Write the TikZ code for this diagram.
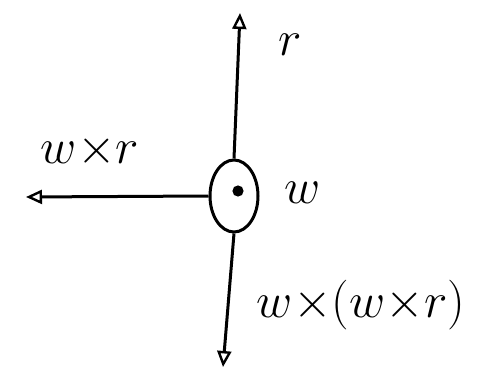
\documentclass[tikz,border=0pt]{standalone}
\usepackage{xcolor}
\usepackage{tikz}
\usetikzlibrary{arrows.meta, shapes.geometric, positioning}

\tikzset{
    body/.style={ellipse, draw, line width=1.5pt, minimum width=24pt, minimum height=36pt, inner sep=0pt},
    vec/.style={line width=1.5pt, -{Triangle[open, length=8pt, width=7pt, line width=1.2pt]}},
    lbl/.style={font=\fontsize{25}{29}\selectfont, inner sep=1pt}
}

\begin{document}
\begin{tikzpicture}[x=0.5pt, y=0.5pt]
        \useasboundingbox (0,0) rectangle (478,371);

        \node[body] (O) at (234,175) {};
        \fill (238,180) circle (2.8pt);
        \coordinate (top) at (240,358);
        \coordinate (left) at (26,174);
        \coordinate (bot) at (223,4);

        \node[lbl] (r) at (290,326) {$r$};
        \node[lbl] (wxr) at (90,220) {$w{\times}r$};
        \node[lbl] (w) at (303,178) {$w$};
        \node[lbl] (wwxr) at (361,66) {$w{\times}(w{\times}r)$};

        \draw[vec] (O.north) -- (top);
        \draw[vec] (O.west) -- (left);
        \draw[vec] (O.south) -- (bot);

    \end{tikzpicture}
\end{document}
